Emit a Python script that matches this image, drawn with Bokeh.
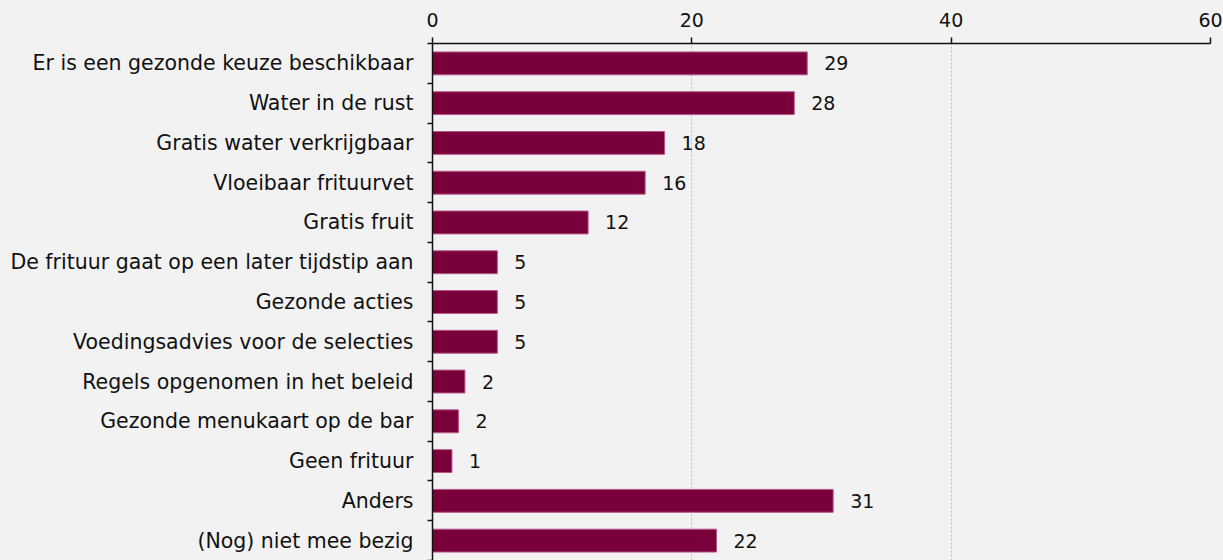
from bokeh.plotting import figure
from bokeh.models import ColumnDataSource, Range1d, FixedTicker
from bokeh.core.properties import value
from bokeh.embed import file_html
from bokeh.resources import INLINE

categories = [
    "Er is een gezonde keuze beschikbaar",
    "Water in de rust",
    "Gratis water verkrijgbaar",
    "Vloeibaar frituurvet",
    "Gratis fruit",
    "De frituur gaat op een later tijdstip aan",
    "Gezonde acties",
    "Voedingsadvies voor de selecties",
    "Regels opgenomen in het beleid",
    "Gezonde menukaart op de bar",
    "Geen frituur",
    "Anders",
    "(Nog) niet mee bezig",
]
values = [28.9, 27.9, 17.9, 16.4, 12.0, 5.0, 5.0, 5.0, 2.5, 2.0, 1.5, 30.9, 21.9]
value_labels = ["29", "28", "18", "16", "12", "5", "5", "5", "2", "2", "1", "31", "22"]
x_ticks = [0, 20, 40, 60]

FONT = "DejaVu Sans"
BG = "#f2f2f2"
n = len(categories)
ypos = [n - i - 0.5 for i in range(n)]

src = ColumnDataSource(dict(y=ypos, v=values, lab=value_labels))

p = figure(width=1223, height=560, output_backend="svg", toolbar_location=None,
           x_range=Range1d(0, 60), y_range=Range1d(0.0, n),
           x_axis_location="above", min_border_left=432, min_border_right=13,
           min_border_top=43, min_border_bottom=0)
p.background_fill_color = BG
p.border_fill_color = BG
p.outline_line_color = None

p.hbar(y="y", right="v", left=0, height=0.575, source=src,
       fill_color="#7a003c", line_color="#b8578a", line_width=1)

p.text(x="v", y="y", text="lab", source=src, x_offset=17,
       text_align="left", text_baseline="middle",
       text_font=value(FONT), text_font_size="19px", text_color="#111111")

# x axis (top)
xa = p.xaxis[0]
xa.ticker = FixedTicker(ticks=x_ticks)
xa.major_label_text_font = FONT
xa.major_label_text_font_size = "19px"
xa.major_label_text_color = "#111111"
xa.axis_line_color = "#111111"
xa.axis_line_width = 1.5
xa.major_tick_line_color = "#111111"
xa.major_tick_out = 6
xa.major_tick_in = 0
xa.major_tick_line_width = 1.5
xa.minor_tick_line_color = None
xa.major_label_standoff = 11

# y axis (left) with category labels at centres, ticks at boundaries
ya = p.yaxis[0]
ya.ticker = FixedTicker(ticks=ypos, minor_ticks=list(range(0, n + 1)))
ya.major_label_overrides = {y: c for y, c in zip(ypos, categories)}
ya.major_label_text_font = FONT
ya.major_label_text_font_size = "20.5px"
ya.major_label_text_color = "#111111"
ya.axis_line_color = "#111111"
ya.axis_line_width = 1.5
ya.major_tick_line_color = None
ya.minor_tick_line_color = "#111111"
ya.minor_tick_out = 5
ya.minor_tick_in = 0
ya.minor_tick_line_width = 1.5
ya.major_label_standoff = 13

p.xgrid.ticker = FixedTicker(ticks=[20, 40, 60])
p.xgrid.grid_line_color = "#bdbdbd"
p.xgrid.grid_line_dash = "2 2"
p.xgrid.grid_line_width = 1
p.ygrid.grid_line_color = None

html = file_html(p, INLINE)
html = html.replace("<head>", "<head><style>body{background:#f2f2f2;}</style>", 1)
open("out.html", "w").write(html)
